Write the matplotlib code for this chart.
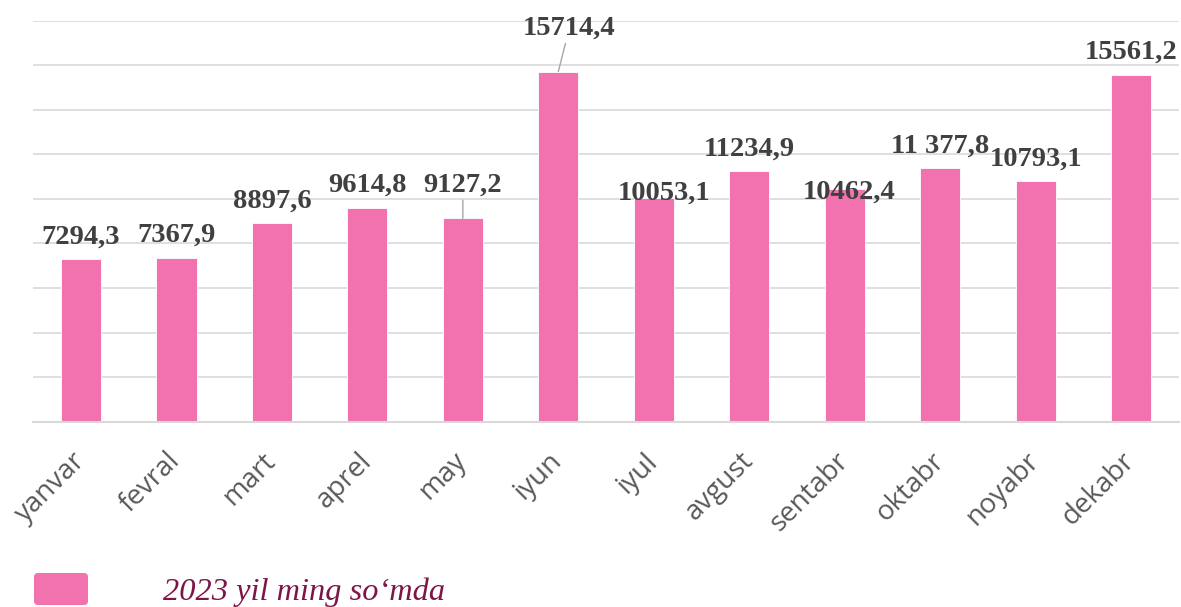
import numpy as np
import matplotlib
matplotlib.use("Agg")
import matplotlib.pyplot as plt
from matplotlib.patches import FancyBboxPatch
from matplotlib.transforms import ScaledTranslation, IdentityTransform

# data
months = ["yanvar", "fevral", "mart", "aprel", "may", "iyun",
          "iyul", "avgust", "sentabr", "oktabr", "noyabr", "dekabr"]
values = [7294.3, 7367.9, 8897.6, 9614.8, 9127.2, 15714.4,
          10053.1, 11234.9, 10462.4, 11377.8, 10793.1, 15561.2]
value_labels = ["7294,3", "7367,9", "8897,6", "9614,8", "9127,2", "15714,4",
                "10053,1", "11234,9", "10462,4", "11 377,8", "10793,1", "15561,2"]
series_name = "2023 yil ming so\u02bbmda"

BAR = "#F272AF"
GRID = "#D9D9D9"

# label placement (pixels: dx, dy above bar top), leader line flag
label_offsets = [(0, 16), (0, 16), (0, 16), (0, 16), (0, 27), (11, 37),
                 (10, -2), (0, 16), (4, -10), (0, 16), (0, 16), (0, 16)]
leaders = [False, False, False, False, True, True,
           False, False, False, False, False, False]

fig = plt.figure(figsize=(11.81, 6.07), dpi=100)
ax = fig.add_axes([33.3 / 1181, 185.3 / 607, 1145.5 / 1181, 401 / 607])

x = np.arange(len(months))
bars = ax.bar(x, values, width=0.42, color=BAR, edgecolor="white",
              linewidth=0.6, label=series_name, zorder=2)

ax.set_xlim(-0.5, len(months) - 0.5)
ax.set_ylim(0, 18000)
ax.set_yticks(np.arange(0, 18001, 2000))
ax.set_yticklabels([])
ax.tick_params(axis="y", length=0)
ax.grid(axis="y", color=GRID, linewidth=1.2)
ax.set_axisbelow(True)
for s in ["top", "right", "left"]:
    ax.spines[s].set_visible(False)
ax.spines["bottom"].set_color(GRID)
ax.spines["bottom"].set_linewidth(1.5)

ax.set_xticks(x)
ax.set_xticklabels(months, rotation=45, ha="right", va="center",
                   rotation_mode="anchor", fontsize=20, color="#595959",
                   family=["Open Sans", "DejaVu Sans"])
ax.tick_params(axis="x", length=0, pad=0)
shift = ScaledTranslation(0 / 100, -35 / 100, fig.dpi_scale_trans)
for lab in ax.get_xticklabels():
    lab.set_transform(lab.get_transform() + shift)

for i, (v, txt) in enumerate(zip(values, value_labels)):
    dx, dy = label_offsets[i]
    props = None
    if leaders[i]:
        props = dict(arrowstyle="-", color="#A6A6A6", lw=1.0,
                     shrinkA=0, shrinkB=0)
    ax.annotate(txt, xy=(x[i], v), xytext=(dx, dy), textcoords="offset pixels",
                ha="center", va="baseline", fontsize=20.5, fontweight="bold",
                color="#404040", family=["Liberation Serif", "DejaVu Serif"],
                arrowprops=props, zorder=3)

# legend drawn by hand: rounded swatch + italic series name
swatch = FancyBboxPatch((34, 2), 54, 32, boxstyle="round,pad=0,rounding_size=4",
                        facecolor=BAR, edgecolor="none",
                        transform=IdentityTransform(), figure=fig)
fig.patches.append(swatch)
fig.text(163 / 1181, 7 / 607, series_name, ha="left", va="baseline",
         fontsize=23.3, fontstyle="italic", color="#7E1548",
         family=["Liberation Serif", "DejaVu Serif"])

fig.savefig("out.png", dpi=100)
